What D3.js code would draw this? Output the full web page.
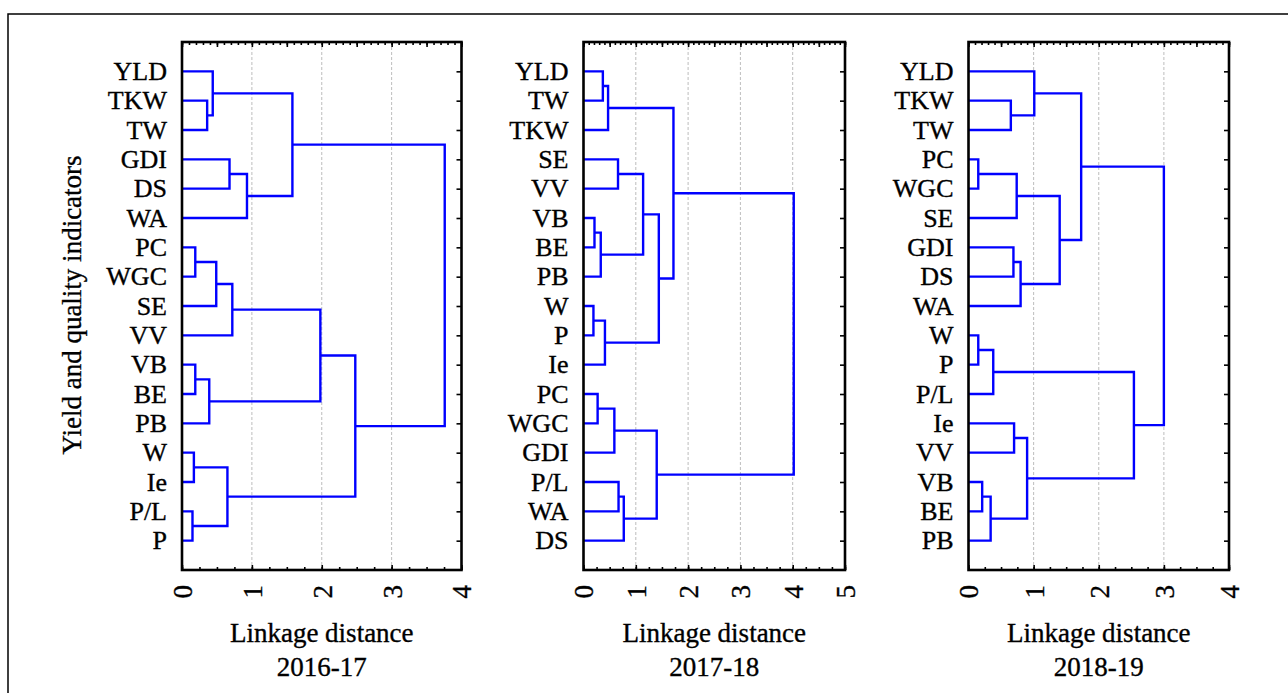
<!DOCTYPE html>
<html>
<head>
<meta charset="utf-8">
<script src="https://cdn.jsdelivr.net/npm/d3@7"></script>
<style>
  body { margin: 0; background: #fff; }
  svg { display: block; font-family: "Liberation Serif", "Times New Roman", serif; }
  svg text { stroke: #000; stroke-width: 0.35; }
  .grid line { stroke: #bdbdbd; stroke-width: 1; stroke-dasharray: 3,2; }
  .link { fill: none; stroke: #0000ff; stroke-width: 2.4; }
  .frame { fill: none; stroke: #000; stroke-width: 2.6; }
  .tick line { stroke: #000; stroke-width: 1.6; }
</style>
</head>
<body>
<div id="chart"></div>
<script>
// leaf order (top to bottom) and merges [cluster id, child a, child b, linkage distance]
const labels1617 = ['YLD','TKW','TW','GDI','DS','WA','PC','WGC','SE','VV','VB','BE','PB','W','Ie','P/L','P'];
const merges1617 = [
  ['c1','TKW','TW',0.36], ['c2','YLD','c1',0.44], ['c3','GDI','DS',0.68], ['c4','c3','WA',0.93],
  ['c5','c2','c4',1.58], ['c6','PC','WGC',0.19], ['c7','c6','SE',0.49], ['c8','c7','VV',0.72],
  ['c9','VB','BE',0.19], ['c10','c9','PB',0.39], ['c11','c8','c10',1.98], ['c12','W','Ie',0.17],
  ['c13','P/L','P',0.15], ['c14','c12','c13',0.65], ['c15','c11','c14',2.48], ['c16','c5','c15',3.76]
];

const labels1718 = ['YLD','TW','TKW','SE','VV','VB','BE','PB','W','P','Ie','PC','WGC','GDI','P/L','WA','DS'];
const merges1718 = [
  ['c1','YLD','TW',0.37], ['c2','c1','TKW',0.47], ['c3','SE','VV',0.66], ['c4','VB','BE',0.21],
  ['c5','c4','PB',0.33], ['c6','c3','c5',1.14], ['c7','W','P',0.19], ['c8','c7','Ie',0.41],
  ['c9','c6','c8',1.44], ['c10','c2','c9',1.72], ['c11','PC','WGC',0.27], ['c12','c11','GDI',0.59],
  ['c13','P/L','WA',0.67], ['c14','c13','DS',0.77], ['c15','c12','c14',1.40], ['c16','c10','c15',4.02]
];

const labels1819 = ['YLD','TKW','TW','PC','WGC','SE','GDI','DS','WA','W','P','P/L','Ie','VV','VB','BE','PB'];
const merges1819 = [
  ['c1','TKW','TW',0.65], ['c2','YLD','c1',1.01], ['c3','PC','WGC',0.15], ['c4','c3','SE',0.74],
  ['c5','GDI','DS',0.69], ['c6','c5','WA',0.80], ['c7','c4','c6',1.40], ['c8','c2','c7',1.73],
  ['c9','W','P',0.15], ['c10','c9','P/L',0.38], ['c11','Ie','VV',0.70], ['c12','VB','BE',0.21],
  ['c13','c12','PB',0.34], ['c14','c11','c13',0.90], ['c15','c10','c14',2.54], ['c16','c8','c15',3.00]
];

const seasons = ['2016-17', '2017-18', '2018-19'];
const xMax = [4, 5, 4];

const svg = d3.select('#chart').append('svg')
    .attr('width', 1288)
    .attr('height', 693);

// outer border (top and left only visible)
svg.append('path')
    .attr('d', 'M8,693 V14 H1288')
    .attr('fill', 'none')
    .attr('stroke', '#000')
    .attr('stroke-width', 1.5);

svg.append('text')
    .attr('transform', 'translate(81,305) rotate(-90)')
    .attr('text-anchor', 'middle')
    .attr('font-size', 27)
    .text('Yield and quality indicators');

class Dendrogram {

  constructor(_config, _labels, _merges) {
    this.config = {
      left: _config.left,
      right: _config.right,
      top: 42,
      bottom: 570,
      xMax: _config.xMax,
      season: _config.season
    }
    this.labels = _labels;
    this.merges = _merges;
    this.initVis();
  }

  initVis() {
    let vis = this;
    const c = vis.config;

    vis.xScale = d3.scaleLinear()
        .domain([0, c.xMax])
        .range([c.left, c.right]);

    vis.yScale = d3.scaleLinear()
        .domain([-1, vis.labels.length])
        .range([c.top, c.bottom]);

    vis.g = svg.append('g');

    vis.g.append('g')
        .attr('class', 'grid')
        .selectAll('line')
        .data(d3.range(1, c.xMax))
        .join('line')
        .attr('x1', d => vis.xScale(d))
        .attr('x2', d => vis.xScale(d))
        .attr('y1', c.top)
        .attr('y2', c.bottom);

    vis.renderVis();
    vis.renderAxes();
  }

  renderVis() {
    let vis = this;
    const pos = {};
    vis.labels.forEach((l, i) => pos[l] = {y: vis.yScale(i), h: 0});
    vis.merges.forEach(m => {
      const a = pos[m[1]], b = pos[m[2]];
      pos[m[0]] = {y: (a.y + b.y) / 2, h: m[3]};
    });

    vis.g.selectAll('.link')
        .data(vis.merges)
        .join('path')
        .attr('class', 'link')
        .attr('d', m => {
          const a = pos[m[1]], b = pos[m[2]], x = vis.xScale(m[3]);
          return `M${vis.xScale(a.h)},${a.y}H${x}V${b.y}H${vis.xScale(b.h)}`;
        });
  }

  renderAxes() {
    let vis = this;
    const c = vis.config;
    const idx = d3.range(vis.labels.length);

    // top minor ticks every 0.1, longer at 0.5
    vis.g.append('g')
        .attr('transform', `translate(0,${c.top})`)
        .call(d3.axisTop(vis.xScale).tickValues(d3.range(0, c.xMax * 10 + 1).map(d => d / 10)).tickSize(-3).tickFormat(''));
    vis.g.append('g')
        .attr('transform', `translate(0,${c.top})`)
        .call(d3.axisTop(vis.xScale).tickValues(d3.range(0, c.xMax * 2 + 1).map(d => d / 2)).tickSize(-5).tickFormat(''));

    // bottom minor ticks every 0.25
    vis.g.append('g')
        .attr('transform', `translate(0,${c.bottom})`)
        .call(d3.axisBottom(vis.xScale).tickValues(d3.range(0, c.xMax * 4 + 1).map(d => d / 4)).tickSize(-3).tickFormat(''));

    const bottomAxis = vis.g.append('g')
        .attr('class', 'x-labels')
        .attr('transform', `translate(0,${c.bottom})`)
        .call(d3.axisBottom(vis.xScale).tickValues(d3.range(0, c.xMax + 1)).tickSize(-5).tickFormat(d3.format('d')));

    vis.g.append('g')
        .attr('class', 'y-labels')
        .attr('transform', `translate(${c.left},0)`)
        .call(d3.axisLeft(vis.yScale).tickValues(idx).tickSize(0).tickPadding(15).tickFormat(i => vis.labels[i]));

    vis.g.append('g')
        .attr('transform', `translate(${c.right},0)`)
        .call(d3.axisRight(vis.yScale).tickValues(idx).tickSize(-5).tickFormat(''));

    vis.g.selectAll('.domain').remove();
    vis.g.selectAll('g[font-family]').attr('font-family', null).attr('font-size', null);
    vis.g.selectAll('.y-labels text')
        .attr('fill', '#000')
        .attr('font-size', 26);
    bottomAxis.selectAll('text')
        .attr('fill', '#000')
        .attr('font-size', 27)
        .attr('transform', 'rotate(-90)')
        .attr('text-anchor', 'end')
        .attr('x', -15)
        .attr('y', 0)
        .attr('dy', '0.35em');

    vis.g.append('rect')
        .attr('class', 'frame')
        .attr('x', c.left)
        .attr('y', c.top)
        .attr('width', c.right - c.left)
        .attr('height', c.bottom - c.top);

    const cx = (c.left + c.right) / 2;
    vis.g.append('text')
        .attr('x', cx)
        .attr('y', 642)
        .attr('text-anchor', 'middle')
        .attr('font-size', 27)
        .text('Linkage distance');
    vis.g.append('text')
        .attr('x', cx)
        .attr('y', 676)
        .attr('text-anchor', 'middle')
        .attr('font-size', 27)
        .text(c.season);
  }
}

new Dendrogram({left: 182, right: 461.5, xMax: xMax[0], season: seasons[0]}, labels1617, merges1617);
new Dendrogram({left: 583.5, right: 845, xMax: xMax[1], season: seasons[1]}, labels1718, merges1718);
new Dendrogram({left: 968.5, right: 1229, xMax: xMax[2], season: seasons[2]}, labels1819, merges1819);
</script>
</body>
</html>
